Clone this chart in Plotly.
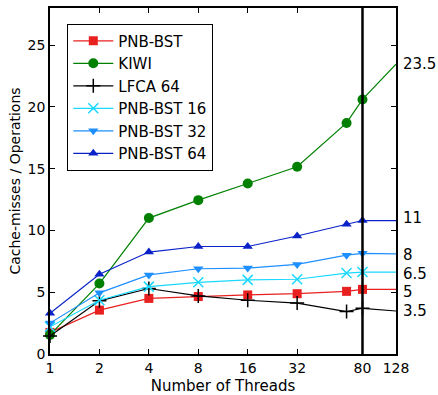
import plotly.graph_objects as go

threads = [1, 2, 4, 8, 16, 32, 64, 80, 128]
pnb_bst = [1.75, 3.55, 4.5, 4.65, 4.78, 4.88, 5.07, 5.23, 5.23]
kiwi = [1.55, 5.7, 11.0, 12.45, 13.8, 15.15, 18.7, 20.6, 23.45]
lfca64 = [1.45, 4.3, 5.3, 4.7, 4.35, 4.12, 3.43, 3.7, 3.48]
pnb16 = [2.2, 4.35, 5.45, 5.8, 6.0, 6.05, 6.55, 6.63, 6.63]
pnb32 = [2.5, 4.95, 6.4, 6.9, 6.95, 7.25, 8.0, 8.15, 8.1]
pnb64 = [3.3, 6.45, 8.25, 8.7, 8.7, 9.55, 10.5, 10.8, 10.8]

x_ticks = [1, 2, 4, 8, 16, 32, 80, 128]
y_ticks = [0, 5, 10, 15, 20, 25]
end_labels = ["23.5", "11", "8", "6.5", "5", "3.5"]
end_values = [23.5, 11, 8, 6.5, 5, 3.5]
vline_x = 80

series = [
    ("PNB-BST", pnb_bst, "#e8201f", "square", 9),
    ("KIWI", kiwi, "#008000", "circle", 10),
    ("LFCA 64", lfca64, "#000000", "cross-thin", 10),
    ("PNB-BST 16", pnb16, "#1ad8ff", "x-thin", 10),
    ("PNB-BST 32", pnb32, "#1e8fff", "triangle-down", 9),
    ("PNB-BST 64", pnb64, "#0a22c8", "triangle-up", 9),
]

fig = go.Figure()
for name, vals, color, sym, size in series:
    fig.add_trace(go.Scatter(
        x=threads, y=vals, name=name, mode="lines+markers",
        line=dict(color=color, width=1.2),
        marker=dict(symbol=sym, size=size, color=color,
                    line=dict(color=color, width=1.5 if "thin" in sym else 0)),
        cliponaxis=False,
    ))

fig.add_shape(type="line", xref="x", yref="paper", x0=vline_x, x1=vline_x,
              y0=0, y1=1, line=dict(color="black", width=2.5))

for t, v in zip(end_labels, end_values):
    fig.add_annotation(x=1, xref="paper", y=v, yref="y", text=t, showarrow=False,
                       xanchor="left", xshift=5, font=dict(size=15, color="black"))

fig.update_layout(
    width=438, height=395,
    margin=dict(l=50, r=42, t=8, b=41),
    paper_bgcolor="white", plot_bgcolor="white",
    font=dict(family="DejaVu Sans", size=14, color="black"),
    showlegend=True,
    legend=dict(x=0.05, y=0.955, xanchor="left", yanchor="top",
                bordercolor="black", borderwidth=1, bgcolor="white",
                font=dict(size=15), tracegroupgap=0, itemwidth=40),
)
fig.update_xaxes(type="log", range=[0, 2.1072], tickvals=x_ticks,
                 ticktext=[str(v) for v in x_ticks], automargin=False,
                 showgrid=False, zeroline=False, showline=True, linecolor="black",
                 linewidth=1.5, mirror="ticks", ticks="inside", ticklen=5,
                 tickcolor="black",
                 title=dict(text="Number of Threads", font=dict(size=15), standoff=6))
fig.update_yaxes(range=[0, 28], tickvals=y_ticks, showgrid=False, zeroline=False,
                 automargin=False,
                 showline=True, linecolor="black", linewidth=1.5, mirror="ticks",
                 ticks="inside", ticklen=5, tickcolor="black",
                 title=dict(text="Cache-misses / Operations", font=dict(size=14), standoff=4))

fig.write_html("out.html", config={"displayModeBar": False},
               post_script="document.body.style.margin='0';document.body.style.overflow='hidden';")
